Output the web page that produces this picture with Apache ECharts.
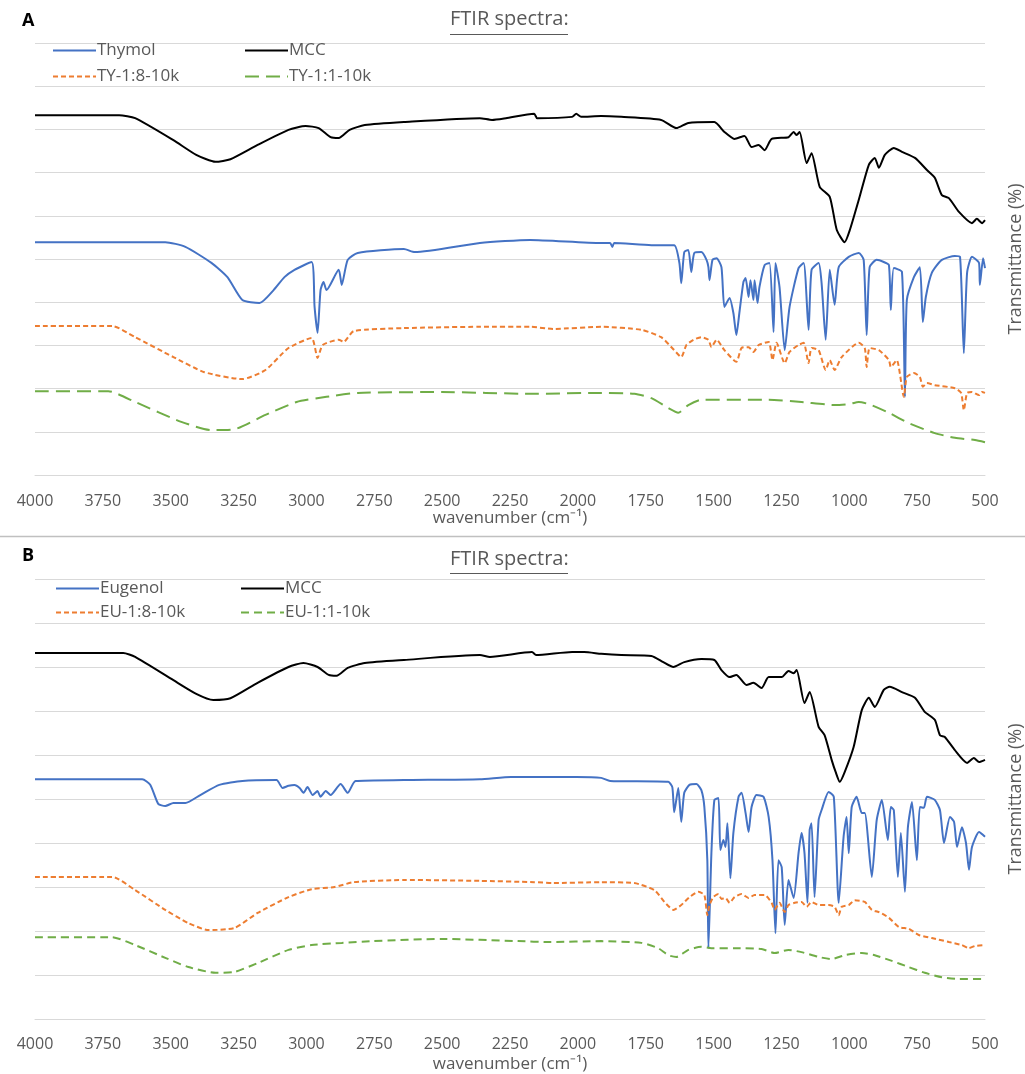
<!DOCTYPE html>
<html>
<head>
<meta charset="utf-8">
<script src="https://cdn.jsdelivr.net/npm/echarts@6.0.0/dist/echarts.min.js"></script>
<style>
html,body{margin:0;padding:0;background:#fff;}
#chart{width:1025px;height:1074px;}
</style>
</head>
<body>
<div id="chart"></div>
<script>
// ---- axis ticks ----
const xTicks = [4000, 3750, 3500, 3250, 3000, 2750, 2500, 2250, 2000, 1750, 1500, 1250, 1000, 750, 500];

// ---- Panel A : [wavenumber, transmittance (offset, a.u.)] ----
const mccA = [[4000,83.3],[3690,83.3],[3631,82.6],[3490,77.5],[3406,74.1],[3335,72.5],[3280,73.1],[3180,76.4],[3066,79.9],[3003,80.8],[2955,80.3],[2911,78.2],[2881,78.0],[2841,79.9],[2785,81.0],[2641,81.7],[2361,82.6],[2316,82.2],[2265,82.6],[2161,83.6],[2150,82.6],[2021,82.9],[2006,83.6],[1988,82.9],[1914,83.1],[1840,82.9],[1693,82.2],[1637,80.3],[1593,81.5],[1497,81.7],[1460,79.4],[1423,77.8],[1386,78.5],[1360,75.9],[1334,76.4],[1312,75.2],[1286,77.8],[1224,78.2],[1205,79.4],[1194,78.7],[1183,79.4],[1157,72.2],[1139,74.5],[1109,66.7],[1072,64.4],[1046,56.7],[1017,53.9],[998,56.7],[965,63.7],[928,71.8],[906,73.4],[891,71.1],[869,74.1],[836,75.7],[806,74.8],[758,73.4],[714,70.6],[685,68.8],[659,64.8],[633,64.1],[596,60.9],[548,58.3],[530,59.3],[511,58.3],[500,59.0]];
const thymolA = [[4000,53.9],[3520,53.9],[3446,52.8],[3350,49.1],[3291,45.8],[3236,40.5],[3173,39.8],[3121,42.8],[3081,45.8],[3044,47.5],[2981,49.3],[2970,38.9],[2959,32.9],[2948,42.8],[2937,44.7],[2926,42.8],[2881,47.5],[2870,44.0],[2848,49.8],[2811,51.4],[2641,52.3],[2601,51.6],[2361,53.7],[2176,54.4],[1914,53.7],[1881,53.7],[1873,52.8],[1866,53.7],[1729,53.2],[1645,53.2],[1626,49.1],[1619,44.4],[1608,51.6],[1593,52.1],[1582,47.0],[1571,51.4],[1545,51.6],[1526,49.8],[1519,48.1],[1515,45.1],[1504,49.8],[1489,50.2],[1471,48.1],[1460,38.9],[1441,41.0],[1427,37.5],[1416,32.4],[1405,37.5],[1390,44.7],[1382,45.6],[1371,41.2],[1364,45.1],[1353,40.5],[1349,45.1],[1338,39.8],[1331,43.5],[1312,48.6],[1294,49.1],[1279,33.1],[1272,49.1],[1257,43.5],[1238,28.9],[1220,38.9],[1187,47.9],[1168,49.1],[1150,33.6],[1139,47.5],[1113,49.1],[1102,44.4],[1087,31.3],[1072,47.5],[1054,39.4],[1039,48.1],[1002,50.5],[965,51.4],[947,49.8],[936,32.4],[925,48.1],[899,49.8],[873,49.3],[854,48.6],[847,38.2],[836,47.9],[806,47.0],[795,18.1],[788,40.5],[762,45.8],[740,48.1],[729,35.4],[718,41.2],[696,46.8],[659,49.8],[611,50.7],[592,50.5],[578,28.2],[566,46.8],[548,50.5],[522,49.1],[519,44.0],[507,50.2],[500,47.9]];
const ty18A = [[4000,34.5],[3716,34.5],[3631,31.9],[3490,27.3],[3376,23.8],[3236,22.2],[3151,24.3],[3066,29.4],[2981,31.7],[2959,27.1],[2940,30.1],[2881,31.3],[2863,30.8],[2826,33.3],[2641,34.0],[2361,34.3],[2172,34.3],[2091,33.8],[1914,34.3],[1766,33.6],[1693,31.9],[1645,28.9],[1619,27.3],[1600,30.1],[1574,31.3],[1545,31.9],[1519,31.3],[1508,29.6],[1489,31.3],[1460,28.9],[1416,26.2],[1397,29.4],[1371,29.6],[1353,28.5],[1334,30.1],[1297,30.8],[1283,26.6],[1268,30.6],[1238,25.9],[1220,28.5],[1187,30.1],[1168,30.6],[1150,25.9],[1139,29.4],[1113,28.9],[1087,24.3],[1072,26.6],[1054,24.3],[1028,27.3],[965,30.6],[943,29.4],[936,25.0],[925,29.4],[891,28.9],[854,26.6],[847,25.0],[825,26.6],[799,18.1],[788,22.7],[762,23.6],[740,22.7],[729,20.4],[714,21.3],[685,20.8],[611,20.1],[588,19.0],[578,15.0],[566,19.0],[548,19.2],[522,18.5],[511,19.2],[500,19.0]];
const ty11A = [[4000,19.4],[3730,19.4],[3631,16.9],[3461,12.3],[3350,10.4],[3265,10.6],[3151,13.9],[3036,16.9],[2926,18.1],[2811,19.0],[2501,19.2],[2176,18.8],[1914,19.0],[1792,18.8],[1729,17.8],[1667,15.5],[1630,14.4],[1593,16.2],[1545,17.4],[1297,17.4],[1176,16.9],[1054,16.2],[1002,16.4],[965,16.9],[928,16.4],[854,14.4],[781,12.0],[685,9.7],[611,8.6],[537,8.1],[500,7.6]];

// ---- Panel B ----
const mccB = [[4000,83.2],[3675,83.2],[3631,82.3],[3490,77.0],[3406,73.9],[3343,72.5],[3280,72.9],[3180,76.4],[3066,80.0],[3011,80.9],[2959,80.0],[2918,78.2],[2889,78.0],[2848,79.8],[2785,80.9],[2641,81.6],[2361,82.7],[2324,82.3],[2169,83.4],[2154,82.7],[2021,83.4],[1977,83.4],[1914,83.0],[1840,82.7],[1729,82.5],[1685,81.1],[1648,80.0],[1608,81.1],[1545,81.8],[1497,81.6],[1471,79.3],[1441,77.7],[1416,78.2],[1379,75.9],[1353,76.4],[1323,75.2],[1297,77.7],[1249,77.7],[1224,79.1],[1205,78.6],[1194,79.3],[1165,71.8],[1146,74.3],[1113,66.4],[1091,64.5],[1065,58.9],[1050,56.1],[1035,53.9],[1017,56.1],[984,61.8],[954,70.2],[928,73.0],[906,70.9],[873,74.8],[851,75.5],[806,74.3],[758,73.0],[722,69.8],[685,68.0],[666,64.5],[648,64.1],[611,61.1],[566,58.2],[541,59.3],[522,58.4],[500,58.9]];
const eugenolB = [[4000,54.5],[3605,54.5],[3575,53.2],[3546,48.9],[3520,48.4],[3490,49.1],[3446,49.1],[3391,50.9],[3321,53.2],[3236,54.1],[3110,54.3],[3088,52.5],[3066,53.0],[3044,53.2],[3025,52.5],[3011,51.4],[2996,52.7],[2977,50.9],[2959,51.8],[2948,50.5],[2929,51.8],[2911,50.9],[2874,53.4],[2848,51.4],[2819,54.1],[2641,54.3],[2361,54.5],[2246,55.0],[2006,55.0],[1914,54.8],[1881,54.1],[1667,53.9],[1652,52.7],[1645,47.0],[1630,52.5],[1619,44.8],[1608,51.4],[1589,53.2],[1563,53.4],[1545,52.0],[1534,48.2],[1523,36.1],[1519,16.1],[1508,37.7],[1497,49.8],[1482,50.2],[1475,38.4],[1464,40.7],[1456,39.1],[1449,44.5],[1438,32.0],[1427,42.3],[1408,50.5],[1397,51.4],[1382,46.8],[1371,42.5],[1360,48.2],[1342,50.9],[1316,50.5],[1297,45.9],[1283,36.1],[1272,19.5],[1261,36.1],[1249,34.5],[1238,21.4],[1224,31.6],[1205,27.5],[1187,37.7],[1176,42.3],[1165,37.7],[1154,26.4],[1146,43.0],[1139,44.5],[1128,27.7],[1113,45.2],[1102,47.5],[1076,51.6],[1057,50.5],[1039,26.4],[1021,41.4],[1010,45.9],[1002,37.7],[991,48.2],[973,50.5],[954,46.8],[943,46.8],[917,32.3],[899,45.2],[880,49.8],[858,40.7],[847,48.2],[836,47.5],[821,32.3],[810,42.3],[795,28.9],[784,43.6],[769,49.3],[751,36.1],[740,48.2],[725,48.0],[714,50.5],[685,49.8],[666,47.5],[651,40.0],[629,45.9],[614,44.8],[603,39.1],[585,43.6],[570,40.0],[559,33.9],[548,39.1],[522,42.5],[500,41.4]];
const eu18B = [[4000,32.3],[3716,32.3],[3631,29.3],[3520,24.8],[3435,21.8],[3361,20.2],[3265,20.7],[3180,24.1],[3066,27.7],[2981,29.5],[2896,30.0],[2826,31.1],[2641,31.6],[2361,31.4],[2161,31.1],[2091,30.9],[1914,31.1],[1792,30.9],[1718,29.3],[1681,26.6],[1648,24.8],[1619,25.9],[1589,27.7],[1556,28.9],[1534,28.2],[1523,23.6],[1515,25.9],[1501,27.7],[1482,28.4],[1471,27.3],[1456,27.5],[1441,26.4],[1423,27.7],[1397,28.4],[1371,27.5],[1349,28.2],[1312,28.2],[1286,26.4],[1275,24.8],[1257,26.4],[1238,24.3],[1224,25.9],[1201,26.4],[1176,26.6],[1157,25.5],[1139,26.6],[1113,25.9],[1076,25.9],[1054,25.5],[1039,23.6],[1028,25.5],[1002,25.9],[980,27.0],[943,26.6],[917,24.8],[891,24.3],[854,23.0],[817,20.9],[781,20.5],[744,19.1],[696,18.4],[633,17.5],[585,16.8],[559,16.1],[537,16.6],[500,16.8]];
const eu11B = [[4000,18.6],[3716,18.6],[3631,16.8],[3520,13.9],[3435,11.8],[3335,10.5],[3265,10.7],[3180,12.7],[3066,15.7],[2981,16.8],[2870,17.3],[2756,17.7],[2501,18.2],[2220,17.7],[2106,17.5],[1914,17.7],[1766,17.3],[1704,16.1],[1667,14.5],[1637,14.1],[1593,15.7],[1545,16.4],[1508,16.1],[1423,16.1],[1323,15.9],[1275,15.0],[1224,15.7],[1176,15.2],[1113,14.1],[1065,13.6],[1017,14.5],[954,15.0],[906,14.5],[843,13.2],[781,11.8],[722,10.5],[659,9.5],[596,9.1],[500,9.1]];

const BLUE = '#4472C4', BLACK = '#000000', ORANGE = '#ED7D31', GREEN = '#70AD47';
const GREY = '#595959', GRID = '#d9d9d9';
const FONT = 'Open Sans';

function xAxisFor(gridIndex, margin, gap) {
  return {
    type: 'value', gridIndex: gridIndex, inverse: true,
    min: 500, max: 4000, interval: 250,
    axisLine: {show: true, lineStyle: {color: GRID, width: 1}},
    axisTick: {show: false},
    splitLine: {show: false},
    axisLabel: {color: GREY, fontSize: 16, fontFamily: FONT, margin: margin,
      formatter: function (v) { return xTicks.indexOf(v) >= 0 ? String(v) : ''; }},
    name: 'wavenumber (cm\u207B\u00B9)', nameLocation: 'middle', nameGap: gap,
    nameTextStyle: {color: GREY, fontSize: 17, fontFamily: FONT}
  };
}
function yAxisFor(gridIndex) {
  return {
    type: 'value', gridIndex: gridIndex, position: 'right',
    min: 0, max: 100, interval: 10,
    axisLine: {show: false}, axisTick: {show: false}, axisLabel: {show: false},
    splitLine: {show: true, lineStyle: {color: GRID, width: 1}},
    name: 'Transmittance (%)', nameLocation: 'middle', nameRotate: 90, nameGap: 22,
    nameTextStyle: {color: GREY, fontSize: 18, fontFamily: FONT}
  };
}
function line(name, data, color, idx, type) {
  return {
    type: 'line', name: name, data: data, xAxisIndex: idx, yAxisIndex: idx,
    showSymbol: false, symbol: 'none', animation: false, silent: true,
    smooth: 0.2,
    lineStyle: {color: color, width: 2, type: type || 'solid'},
    itemStyle: {color: color}
  };
}
function leg(name, left, top) {
  return {
    data: [name], left: left, top: top, itemWidth: 43, itemHeight: 14, itemGap: 0,
    padding: 0, selectedMode: false,
    itemStyle: {opacity: 0},
    textStyle: {color: GREY, fontSize: 17, fontFamily: FONT, padding: [0, 0, 0, -4]}
  };
}

const option = {
  backgroundColor: '#ffffff',
  animation: false,
  grid: [
    {left: 35, right: 40, top: 43, height: 432, outerBoundsMode: 'none'},
    {left: 35, right: 40, top: 579, height: 440, outerBoundsMode: 'none'}
  ],
  xAxis: [xAxisFor(0, 18, 34), xAxisFor(1, 17, 37)],
  yAxis: [yAxisFor(0), yAxisFor(1)],
  legend: [
    leg('Thymol', 52, 42), leg('MCC', 244, 42), leg('TY-1:8-10k', 52, 68), leg('TY-1:1-10k', 244, 68),
    leg('Eugenol', 55, 580), leg('MCC ', 240, 580), leg('EU-1:8-10k', 55, 604), leg('EU-1:1-10k', 240, 604)
  ],
  series: [
    line('Thymol', thymolA, BLUE, 0),
    line('MCC', mccA, BLACK, 0),
    line('TY-1:8-10k', ty18A, ORANGE, 0, [5, 3]),
    line('TY-1:1-10k', ty11A, GREEN, 0, [14, 7]),
    line('Eugenol', eugenolB, BLUE, 1),
    line('MCC ', mccB, BLACK, 1),
    line('EU-1:8-10k', eu18B, ORANGE, 1, [5, 3]),
    line('EU-1:1-10k', eu11B, GREEN, 1, [8, 5])
  ],
  graphic: [
    {type: 'text', left: 22, top: 12, style: {text: 'A', fill: '#000', font: 'bold 18px "Open Sans"'}},
    {type: 'text', left: 22, top: 547, style: {text: 'B', fill: '#000', font: 'bold 18px "Open Sans"'}},
    {type: 'text', left: 450, top: 9, style: {text: 'FTIR spectra:', fill: GREY, font: '20px "Open Sans"'}},
    {type: 'line', shape: {x1: 450, y1: 34.5, x2: 568, y2: 34.5}, style: {stroke: GREY, lineWidth: 1.2}},
    {type: 'text', left: 450, top: 549, style: {text: 'FTIR spectra:', fill: GREY, font: '20px "Open Sans"'}},
    {type: 'line', shape: {x1: 450, y1: 573.5, x2: 568, y2: 573.5}, style: {stroke: GREY, lineWidth: 1.2}},
    {type: 'line', shape: {x1: 0, y1: 536.5, x2: 1025, y2: 536.5}, style: {stroke: '#c0c0c0', lineWidth: 1.5}}
  ]
};

const chart = echarts.init(document.getElementById('chart'), null, {renderer: 'canvas'});
chart.setOption(option);
</script>
</body>
</html>
